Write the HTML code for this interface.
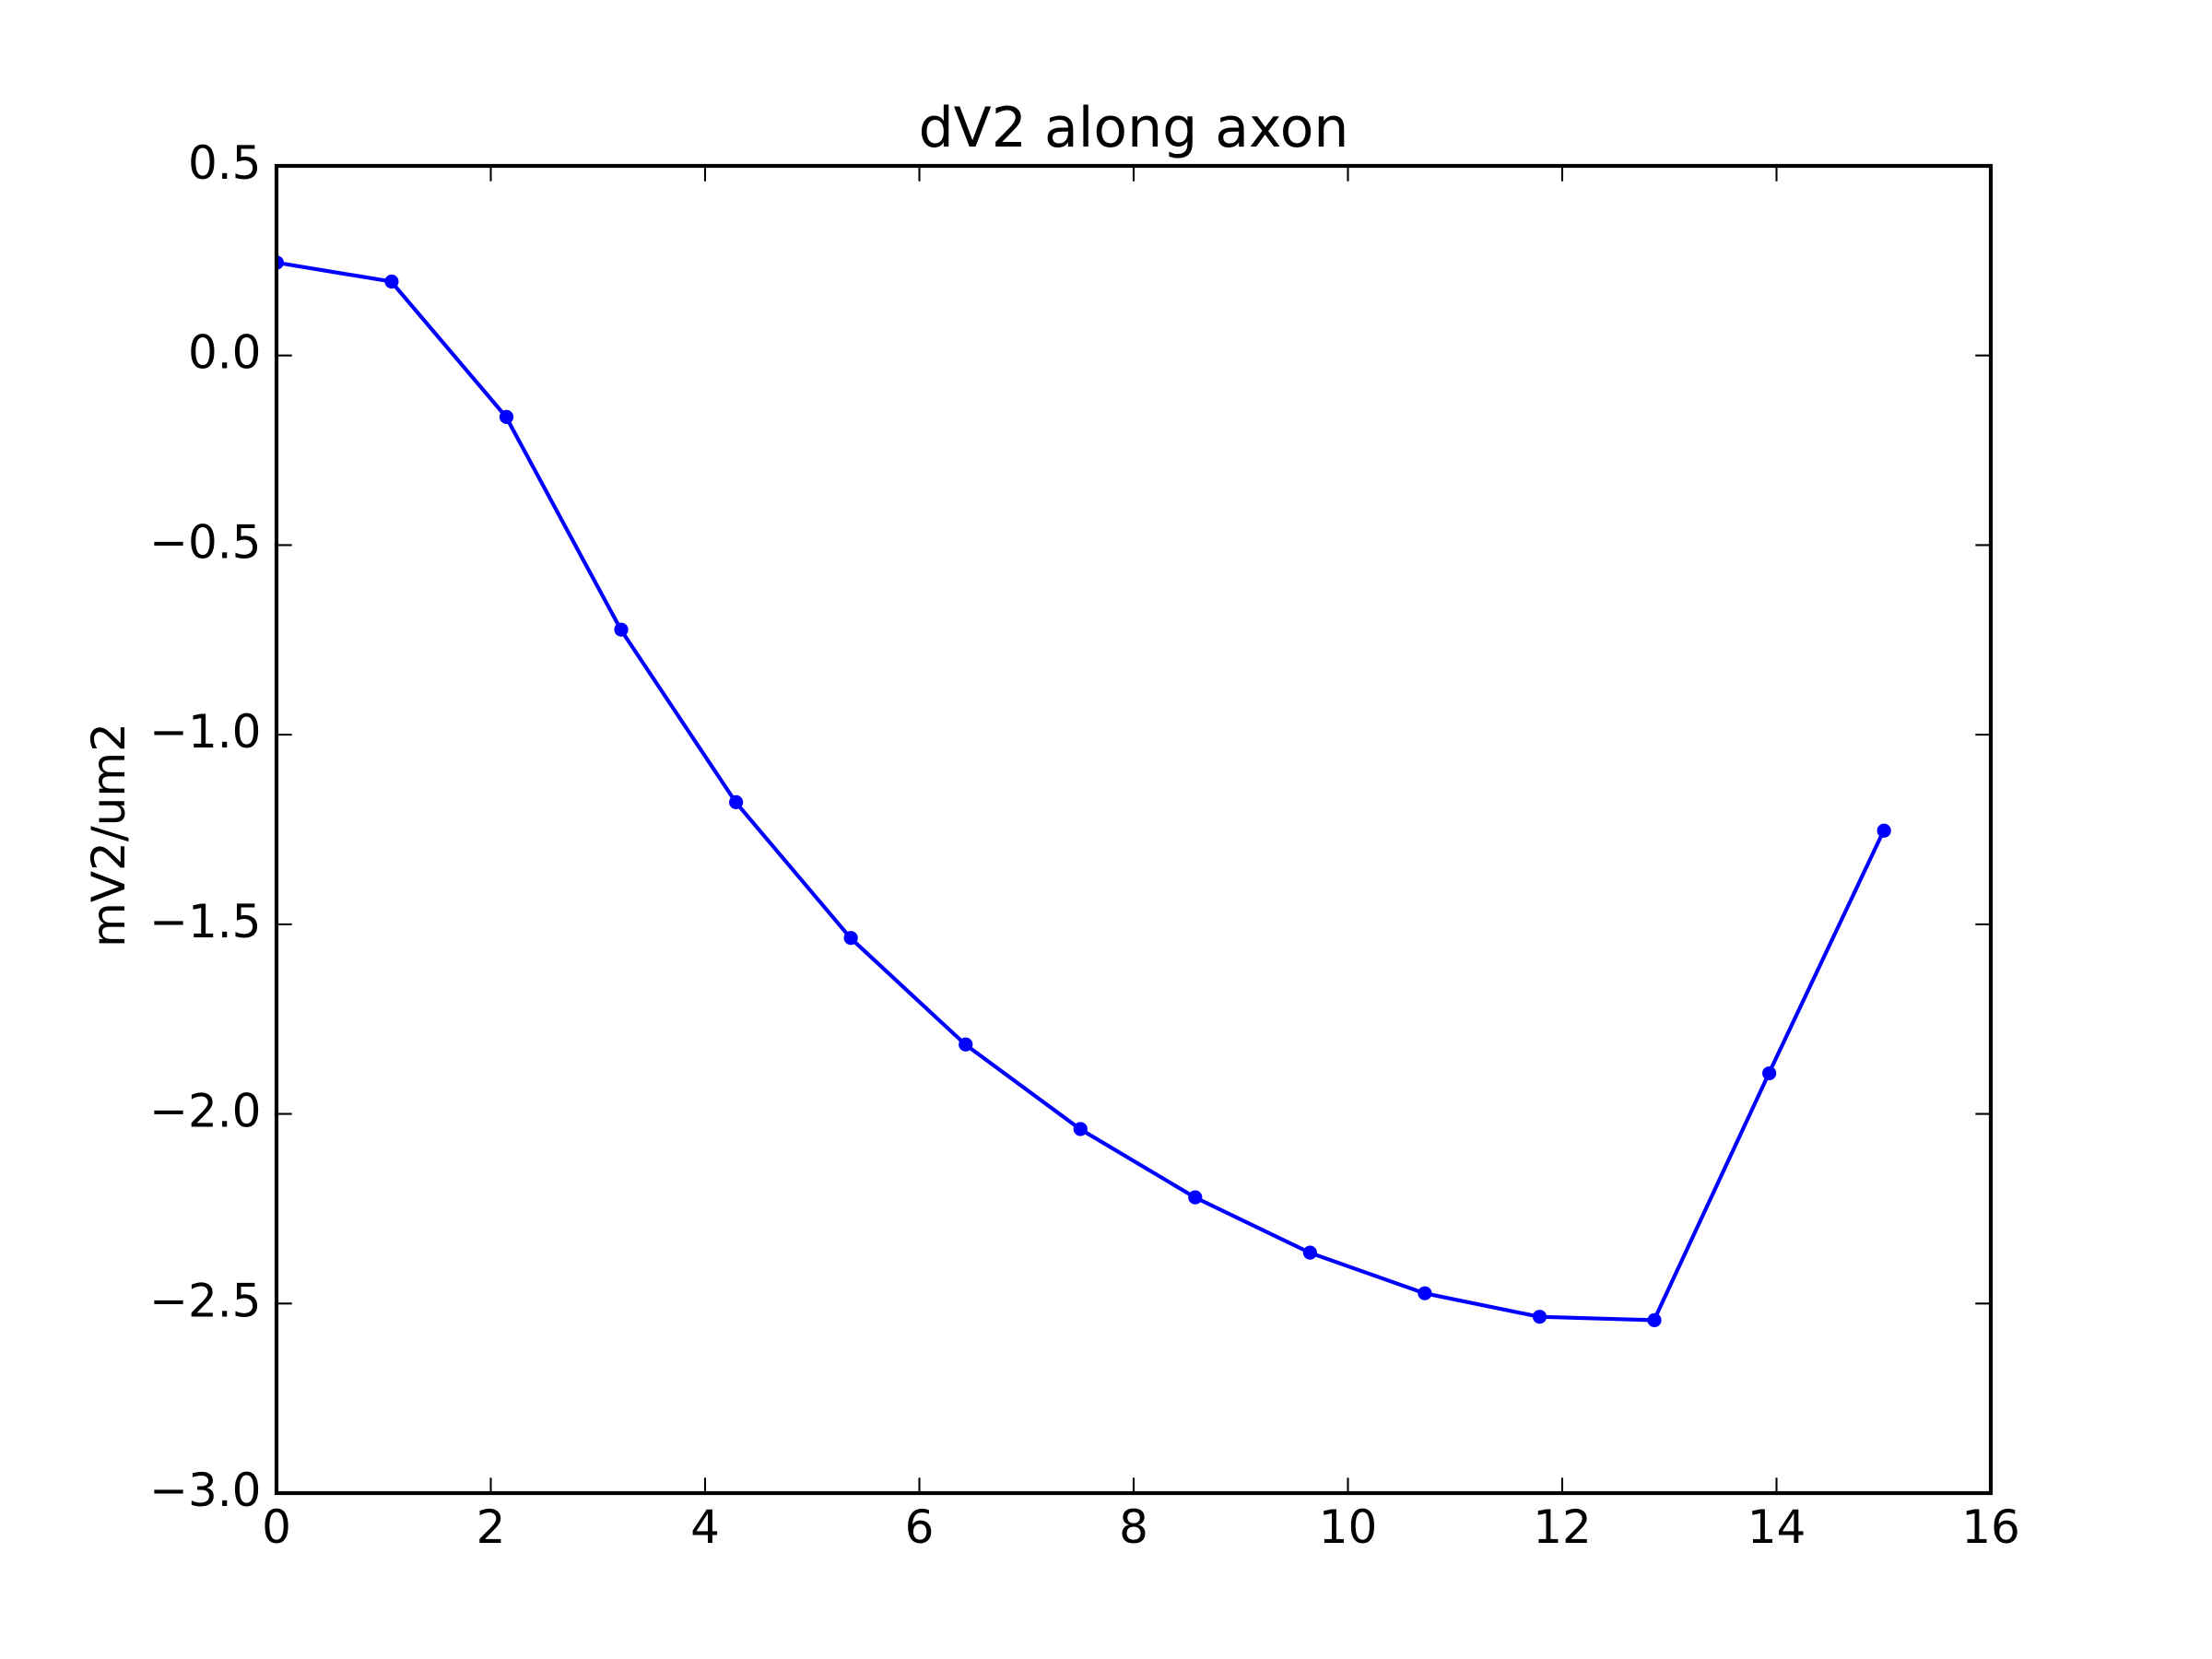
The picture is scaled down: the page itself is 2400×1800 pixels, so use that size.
<!DOCTYPE html>
<html lang="en">
<head>
<meta charset="utf-8">
<title>dV2 along axon</title>
<style>
html,body{margin:0;padding:0;background:#fff;width:2400px;height:1800px;overflow:hidden}
svg{display:block}
text{font-family:"DejaVu Sans","Liberation Sans",sans-serif;fill:#000}
</style>
</head>
<body>
<svg id="chart" xmlns="http://www.w3.org/2000/svg" width="2400" height="1800" viewBox="0 0 2400 1800">
  <rect x="0" y="0" width="2400" height="1800" fill="#fff"/>
  <defs><clipPath id="plot-clip"><rect x="300" y="180" width="1860" height="1440"/></clipPath></defs>
  <g id="series" clip-path="url(#plot-clip)"></g>
  <g id="ticks"></g>
  <rect x="300" y="180" width="1860" height="1440" fill="none" stroke="#000" stroke-width="4.17"/>
  <g id="labels"></g>
  <text x="1230" y="159" font-size="60" text-anchor="middle">dV2 along axon</text>
  <text x="0" y="0" font-size="50" text-anchor="middle" transform="translate(135 906) rotate(-90)">mV2/um2</text>
</svg>
<script>
const xValues = [0, 1.071, 2.143, 3.214, 4.286, 5.357, 6.429, 7.5, 8.571, 9.643, 10.714, 11.786, 12.857, 13.929, 15];
const yValues = [0.245, 0.195, -0.162, -0.723, -1.178, -1.536, -1.817, -2.04, -2.22, -2.366, -2.473, -2.535, -2.544, -1.893, -1.253];
const xTickValues = [0, 2, 4, 6, 8, 10, 12, 14, 16];
const yTickValues = [0.5, 0, -0.5, -1, -1.5, -2, -2.5, -3];
const xDomain = [0, 16];
const yDomain = [-3, 0.5];

const NS = 'http://www.w3.org/2000/svg';
const plot = { left: 300, right: 2160, top: 180, bottom: 1620 };
function xScale(v) {
  return plot.left + (v - xDomain[0]) / (xDomain[1] - xDomain[0]) * (plot.right - plot.left);
}
function yScale(v) {
  return plot.bottom - (v - yDomain[0]) / (yDomain[1] - yDomain[0]) * (plot.bottom - plot.top);
}
function make(tag, attrs, parent) {
  const el = document.createElementNS(NS, tag);
  for (const k in attrs) el.setAttribute(k, attrs[k]);
  parent.appendChild(el);
  return el;
}
const series = document.getElementById('series');
const ticks = document.getElementById('ticks');
const labels = document.getElementById('labels');

const line = make('polyline', {
  points: xValues.map((x, i) => xScale(x) + ',' + yScale(yValues[i])).join(' '),
  fill: 'none', stroke: '#0000ff', 'stroke-width': 4.17, 'stroke-linejoin': 'round'
}, series);



xValues.forEach((x, i) => {
  const dot = make('circle', { cx: xScale(x) + 0.4, cy: yScale(yValues[i]), r: 7.6, fill: '#0000ff' }, series);
  
  
});

const TICK = 16.7;
xTickValues.forEach(v => {
  const x = xScale(v);
  [[plot.bottom, plot.bottom - TICK], [plot.top, plot.top + TICK]].forEach(p => {
    const t = make('line', { x1: x, x2: x, y1: p[0], y2: p[1], stroke: '#000', 'stroke-width': 2.08 }, ticks);
    
    
  });
  const lab = make('text', { x: x, y: 1674, 'font-size': 50, 'text-anchor': 'middle' }, labels);
  lab.textContent = String(v);
  
  
});
yTickValues.forEach(v => {
  const y = yScale(v);
  [[plot.left, plot.left + TICK], [plot.right, plot.right - TICK]].forEach(p => {
    const t = make('line', { x1: p[0], x2: p[1], y1: y, y2: y, stroke: '#000', 'stroke-width': 2.08 }, ticks);
    
    
  });
  const lab = make('text', { x: 283.5, y: y + 14, 'font-size': 50, 'text-anchor': 'end' }, labels);
  lab.textContent = (v < 0 ? '\u2212' : '') + Math.abs(v).toFixed(1);
  
  
});
</script>
</body>
</html>
